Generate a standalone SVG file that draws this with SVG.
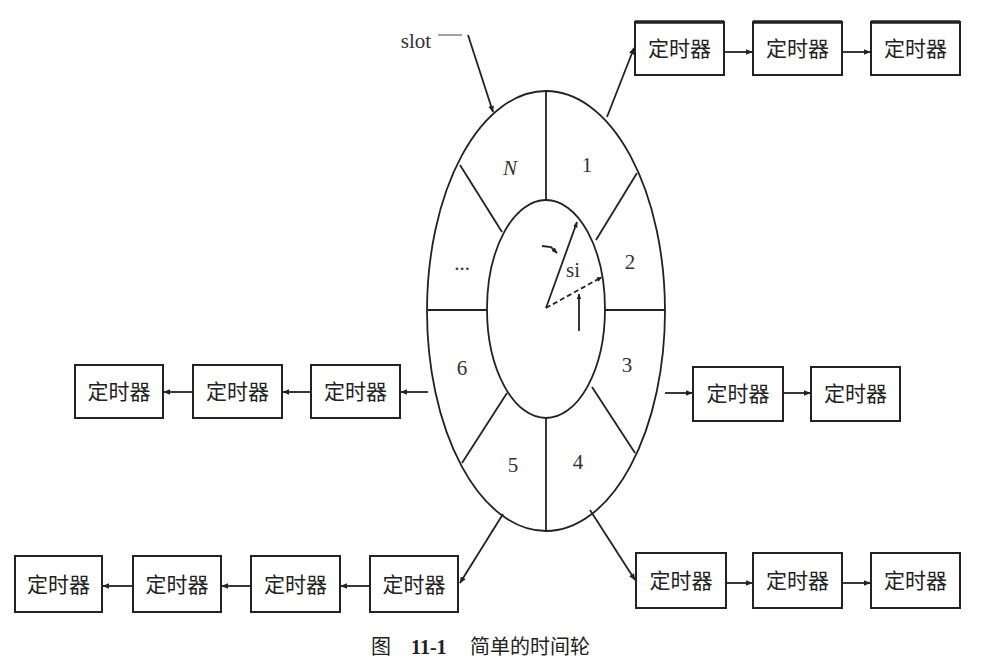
<svg xmlns="http://www.w3.org/2000/svg" width="993" height="663" viewBox="0 0 993 663">
<defs>
<marker id="ah" viewBox="0 0 10 10" refX="9" refY="5" markerWidth="7" markerHeight="7" orient="auto" markerUnits="userSpaceOnUse"><path d="M0,1 L10,5 L0,9 z" fill="#222"/></marker>
<marker id="ahs" viewBox="0 0 10 10" refX="9" refY="5" markerWidth="6" markerHeight="6" orient="auto" markerUnits="userSpaceOnUse"><path d="M0,1 L10,5 L0,9 z" fill="#222"/></marker>
</defs>
<style>
.box{fill:#fff;stroke:#222;stroke-width:2}
.topb{stroke:#222;stroke-width:3.5}
.bt{font-family:"Noto Sans CJK SC","Liberation Serif",serif;font-size:21px;fill:#222;text-anchor:middle}
.ln{stroke:#222;stroke-width:1.8;fill:none}
.arr{stroke:#222;stroke-width:1.8;fill:none;marker-end:url(#ah)}
.lab{font-family:"Liberation Serif",serif;font-size:21px;fill:#333;text-anchor:middle}
.cap{font-family:"Liberation Serif","Noto Sans CJK SC",serif;font-size:20px;fill:#222}
</style>
<rect width="993" height="663" fill="#fff"/>
<g id="wheel">
<ellipse cx="546" cy="311" rx="119" ry="220" class="ln" stroke-width="2.2"/>
<ellipse cx="546" cy="309" rx="59" ry="109" class="ln" stroke-width="2.2"/>
<line x1="546" y1="92" x2="546" y2="200" class="ln"/>
<line x1="546" y1="418" x2="546" y2="531" class="ln"/>
<line x1="428" y1="310" x2="487" y2="310" class="ln"/>
<line x1="605" y1="310" x2="665" y2="310" class="ln"/>
<line x1="460" y1="165" x2="502" y2="232" class="ln"/>
<line x1="637" y1="173" x2="596" y2="240" class="ln"/>
<line x1="507" y1="393" x2="462" y2="463" class="ln"/>
<line x1="592" y1="387" x2="635" y2="453" class="ln"/>
<text x="510" y="175" class="lab" font-style="italic">N</text>
<text x="587" y="172" class="lab">1</text>
<text x="630" y="269" class="lab">2</text>
<text x="462" y="270" class="lab">...</text>
<text x="627" y="372" class="lab">3</text>
<text x="462" y="375" class="lab">6</text>
<text x="513" y="472" class="lab">5</text>
<text x="578" y="469" class="lab">4</text>
<line x1="546" y1="308" x2="577" y2="222" class="ln" marker-end="url(#ahs)"/>
<line x1="546" y1="308" x2="602" y2="277" class="ln" stroke-dasharray="5,3" marker-end="url(#ahs)"/>
<path d="M542,246 L551,247 L557,253" class="ln" marker-end="url(#ahs)"/>
<line x1="579" y1="331" x2="579" y2="294" class="ln" marker-end="url(#ahs)"/>
<text x="573" y="277" class="lab" font-size="17">si</text>
</g>
<g id="slot">
<text x="416" y="48" class="lab" font-size="19">slot</text>
<line x1="438" y1="35" x2="462" y2="35" stroke="#666" stroke-width="1.2"/>
<line x1="468" y1="35" x2="493" y2="112" class="arr"/>
</g>
<g id="connectors">
<line x1="607" y1="117" x2="634" y2="48" class="arr"/>
<line x1="724" y1="52" x2="752" y2="52" class="arr"/>
<line x1="842" y1="52" x2="870" y2="52" class="arr"/>
<line x1="428" y1="392" x2="401" y2="392" class="arr"/>
<line x1="311" y1="392" x2="283" y2="392" class="arr"/>
<line x1="193" y1="392" x2="164" y2="392" class="arr"/>
<line x1="665" y1="393" x2="692" y2="393" class="arr"/>
<line x1="783" y1="393" x2="810" y2="393" class="arr"/>
<line x1="503" y1="514" x2="460" y2="583" class="arr"/>
<line x1="370" y1="586" x2="341" y2="586" class="arr"/>
<line x1="251" y1="586" x2="222" y2="586" class="arr"/>
<line x1="133" y1="586" x2="103" y2="586" class="arr"/>
<line x1="590" y1="510" x2="635" y2="580" class="arr"/>
<line x1="726" y1="583" x2="752" y2="583" class="arr"/>
<line x1="842" y1="583" x2="870" y2="583" class="arr"/>
</g>
<g id="t1"><rect x="635" y="22" width="89" height="53" class="box"/><line x1="635" y1="22" x2="724" y2="22" class="topb"/><text x="679.5" y="56" class="bt">定时器</text></g>
<g id="t2"><rect x="753" y="22" width="89" height="53" class="box"/><line x1="753" y1="22" x2="842" y2="22" class="topb"/><text x="797.5" y="56" class="bt">定时器</text></g>
<g id="t3"><rect x="871" y="22" width="89" height="53" class="box"/><line x1="871" y1="22" x2="960" y2="22" class="topb"/><text x="915.5" y="56" class="bt">定时器</text></g>
<g id="l1"><rect x="311" y="365" width="89" height="53" class="box"/><text x="355.5" y="399" class="bt">定时器</text></g>
<g id="l2"><rect x="193" y="365" width="89" height="53" class="box"/><text x="237.5" y="399" class="bt">定时器</text></g>
<g id="l3"><rect x="75" y="365" width="88" height="53" class="box"/><text x="119" y="399" class="bt">定时器</text></g>
<g id="r1"><rect x="693" y="367" width="90" height="54" class="box"/><text x="738" y="401" class="bt">定时器</text></g>
<g id="r2"><rect x="811" y="367" width="89" height="54" class="box"/><text x="855.5" y="401" class="bt">定时器</text></g>
<g id="bl1"><rect x="370" y="556" width="88" height="56" class="box"/><text x="414" y="592" class="bt">定时器</text></g>
<g id="bl2"><rect x="251" y="556" width="89" height="56" class="box"/><text x="295.5" y="592" class="bt">定时器</text></g>
<g id="bl3"><rect x="133" y="556" width="88" height="56" class="box"/><text x="177" y="592" class="bt">定时器</text></g>
<g id="bl4"><rect x="15" y="556" width="87" height="56" class="box"/><text x="58.5" y="592" class="bt">定时器</text></g>
<g id="br1"><rect x="636" y="553" width="90" height="55" class="box"/><text x="681" y="588" class="bt">定时器</text></g>
<g id="br2"><rect x="753" y="553" width="89" height="55" class="box"/><text x="797.5" y="588" class="bt">定时器</text></g>
<g id="br3"><rect x="871" y="553" width="89" height="55" class="box"/><text x="915.5" y="588" class="bt">定时器</text></g>
<g id="caption">
<text x="371" y="654" class="cap">图</text>
<text x="411" y="654" class="cap" font-weight="bold">11-1</text>
<text x="470" y="654" class="cap">简单的时间轮</text>
</g>
</svg>
